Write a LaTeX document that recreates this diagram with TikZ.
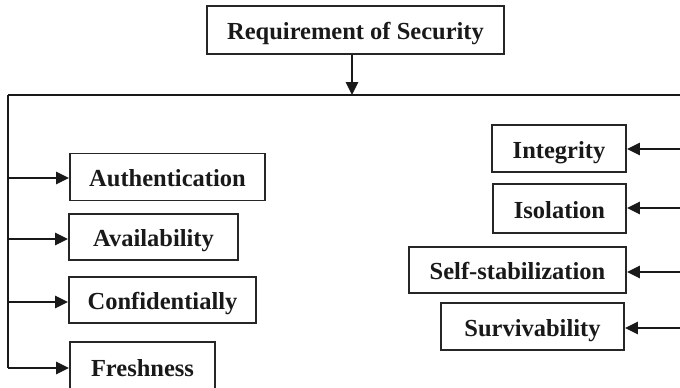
\documentclass[tikz,border=0pt]{standalone}
\usepackage{fontspec}
\setmainfont{Liberation Serif}
\usetikzlibrary{arrows.meta}
\tikzset{
  box/.style={draw=black!85, line width=1.8pt, rectangle, inner sep=0pt,
    text height=19pt, text depth=0pt,
    font=\fontsize{24.5}{27}\selectfont\bfseries, text=black!90},
  link/.style={line width=2.7pt, draw=black!90},
  arr/.style={link, -{Triangle[length=13pt,width=12pt]}}
}
\begin{document}
\begin{tikzpicture}[x=1pt,y=-1pt]
\useasboundingbox (0,0) rectangle (680,388);
\clip (0,0) rectangle (680,388);

% root
\node[box, minimum width=297pt, minimum height=48pt] (req) at (355.5,30) {Requirement of Security};

% bus lines
\coordinate (top) at (352,95);
\coordinate (tl) at (8,95);
\coordinate (tr) at (681,95);
\coordinate (bl) at (8,368);

% left branch
\node[box, minimum width=195pt, minimum height=47pt] (auth) at (167.5,177) {Authentication};
\node[box, minimum width=169pt, minimum height=46pt] (avail) at (153.5,237) {Availability};
\node[box, minimum width=187pt, minimum height=46pt] (conf) at (162.5,300) {Confidentially};
\node[box, minimum width=145pt, minimum height=50pt] (fresh) at (142.5,367) {Freshness};

% right branch
\node[box, minimum width=134pt, minimum height=47pt] (integ) at (559,148.5) {Integrity};
\node[box, minimum width=133pt, minimum height=49pt] (iso) at (559.5,208.5) {Isolation};
\node[box, minimum width=217pt, minimum height=46pt] (self) at (517.5,270) {Self-stabilization};
\node[box, minimum width=183pt, minimum height=47pt] (surv) at (532.5,326.5) {Survivability};

% right feed points at the edge
\coordinate (r1) at (681,149);
\coordinate (r2) at (681,208);
\coordinate (r3) at (681,272);
\coordinate (r4) at (681,328);

% connectors
\draw[arr] (req.south -| top) -- (top);
\draw[link] (tl) -- (tr);
\draw[link] (tl) -- (bl);
\draw[arr] (8,178) -- (auth.west |- 0,178);
\draw[arr] (8,239) -- (avail.west |- 0,239);
\draw[arr] (8,302) -- (conf.west |- 0,302);
\draw[arr] (bl) -- (fresh.west |- bl);
\draw[arr] (r1) -- (integ.east |- r1);
\draw[arr] (r2) -- (iso.east |- r2);
\draw[arr] (r3) -- (self.east |- r3);
\draw[arr] (r4) -- (surv.east |- r4);
\end{tikzpicture}
\end{document}
